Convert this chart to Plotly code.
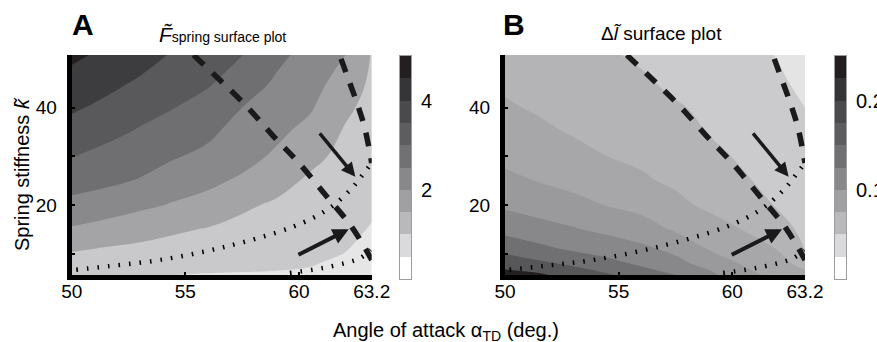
import plotly.graph_objects as go

# ---------------- data ----------------
alpha = [50, 51.5, 53, 54.5, 56, 57.5, 59, 60.5, 62, 63.2]
stiff = [5.6, 8, 11, 15, 20, 25, 30, 35, 40, 45, 50.8]

# F_spring surface, one list per alpha column (values along stiff)
F_cols = [
    [1.55, 1.78, 2.06, 2.45, 2.86, 3.21, 3.52, 3.80, 4.07, 4.32, 4.60],
    [1.53, 1.75, 1.97, 2.32, 2.76, 3.10, 3.36, 3.63, 3.89, 4.13, 4.40],
    [1.51, 1.70, 1.90, 2.20, 2.60, 2.97, 3.21, 3.45, 3.68, 3.93, 4.20],
    [1.50, 1.66, 1.83, 2.07, 2.46, 2.75, 3.04, 3.25, 3.51, 3.72, 3.95],
    [1.48, 1.61, 1.76, 1.97, 2.35, 2.60, 2.88, 3.10, 3.30, 3.55, 3.76],
    [1.47, 1.59, 1.72, 1.88, 2.07, 2.43, 2.66, 2.80, 3.00, 3.25, 3.51],
    [1.46, 1.57, 1.68, 1.82, 1.94, 2.16, 2.43, 2.60, 2.76, 2.93, 3.12],
    [1.43, 1.53, 1.62, 1.72, 1.82, 1.93, 2.12, 2.35, 2.55, 2.68, 2.83],
    [1.30, 1.42, 1.53, 1.62, 1.72, 1.80, 1.88, 1.96, 2.10, 2.30, 2.52],
    [1.10, 1.22, 1.35, 1.47, 1.57, 1.65, 1.72, 1.78, 1.85, 1.91, 1.97],
]
# Delta l surface, one list per alpha column
DL_cols = [
    [0.234, 0.215, 0.192, 0.167, 0.146, 0.130, 0.120, 0.111, 0.103, 0.096, 0.088],
    [0.229, 0.205, 0.181, 0.159, 0.139, 0.124, 0.113, 0.105, 0.097, 0.090, 0.083],
    [0.215, 0.195, 0.171, 0.152, 0.132, 0.118, 0.108, 0.098, 0.092, 0.086, 0.079],
    [0.203, 0.182, 0.164, 0.144, 0.124, 0.112, 0.100, 0.094, 0.089, 0.083, 0.077],
    [0.186, 0.171, 0.155, 0.136, 0.117, 0.103, 0.096, 0.089, 0.084, 0.078, 0.072],
    [0.175, 0.157, 0.144, 0.122, 0.106, 0.096, 0.089, 0.083, 0.077, 0.071, 0.066],
    [0.156, 0.141, 0.123, 0.111, 0.095, 0.087, 0.080, 0.074, 0.071, 0.068, 0.064],
    [0.133, 0.122, 0.111, 0.099, 0.087, 0.077, 0.072, 0.069, 0.065, 0.062, 0.057],
    [0.118, 0.110, 0.099, 0.083, 0.073, 0.069, 0.065, 0.061, 0.057, 0.053, 0.049],
    [0.108, 0.090, 0.073, 0.070, 0.066, 0.062, 0.058, 0.054, 0.050, 0.046, 0.041],
]

# overlay curves (same in both panels)
dash1_a = [55.36, 56.53, 57.71, 58.9, 60.0, 61.3, 62.35, 63.2]
dash1_k = [50.8, 45.6, 40.2, 34.0, 28.6, 21.3, 15.3, 8.7]
dash2_a = [61.85, 62.2, 62.55, 62.9, 63.2]
dash2_k = [50.0, 45.5, 41.0, 35.7, 28.6]
dot1_a = [50.2, 52.0, 53.9, 56.8, 59.76, 61.23, 62.26, 62.85, 63.2]
dot1_k = [6.7, 7.6, 8.7, 11.45, 15.55, 18.97, 23.08, 26.5, 28.6]
dot2_a = [59.6, 61.38, 62.7, 63.15]
dot2_k = [6.0, 7.35, 9.1, 10.8]
arrow_tail_a = [60.86, 59.91]
arrow_tail_k = [35.0, 9.6]
arrow_head_a = [62.48, 62.19]
arrow_head_k = [25.8, 15.0]

x_ticks = [50, 55, 60, 63.2]
x_ticktext = ["50", "55", "60", "63.2"]
y_ticks = [10, 20, 30, 40]
y_ticktext = ["", "20", "", "40"]

F_levels = [0, 5, 0.5]
DL_levels = [0, 0.25, 0.025]
cbA_ticks = [2, 4]
cbA_text = ["2", "4"]
cbB_ticks = [0.1, 0.2]
cbB_text = ["0.1", "0.2"]

# ---------------- styles ----------------
FONT = "Liberation Sans, Arial, Helvetica, sans-serif"
W, H = 877, 342
bandA = ["#ffffff", "#f2f2f3", "#e6e6e7", "#c9c9cb", "#a4a4a6", "#89898b",
         "#6f6f71", "#59595b", "#3d3d3f", "#231f20"]
bandB = ["#ffffff", "#e4e4e5", "#cbcbcd", "#b4b4b6", "#a7a7a9", "#9a9a9c",
         "#88888a", "#707072", "#575759", "#231f20"]
cbar_cols = ["#ffffff", "#dadadc", "#b9b9bb", "#a0a0a2", "#88888a", "#717173",
             "#5d5d5f", "#4a4a4c", "#353537", "#231f20"]


def contour_scale(cols):
    n = len(cols) + 1
    sc = [[0.0, cols[0]]]
    for i, c in enumerate(cols):
        sc.append([(i + 1) / n, c])
    sc.append([1.0, cols[-1]])
    return sc


def step_scale(cols):
    n = len(cols)
    sc = []
    for i, c in enumerate(cols):
        sc.append([i / n, c])
        sc.append([(i + 1) / n, c])
    return sc


def transpose(cols):
    return [list(r) for r in zip(*cols)]


def px(x):
    return x / W


def py(y):
    return 1 - y / H


fig = go.Figure()

panels = [
    ("x", "y", F_cols, F_levels, bandA),
    ("x2", "y2", DL_cols, DL_levels, bandB),
]
for xa, ya, cols, lev, band in panels:
    fig.add_trace(go.Contour(
        x=alpha, y=stiff, z=transpose(cols),
        contours=dict(start=lev[0], end=lev[1], size=lev[2], coloring="fill",
                      showlines=False),
        line=dict(width=0, smoothing=1.3), colorscale=contour_scale(band), showscale=False,
        xaxis=xa, yaxis=ya, hoverinfo="skip"))
    fig.add_trace(go.Scatter(x=dot1_a, y=dot1_k, mode="lines", xaxis=xa, yaxis=ya,
                             line=dict(color="black", width=4.5, dash="1.6px,9px",
                                       shape="spline"), showlegend=False))
    fig.add_trace(go.Scatter(x=dot2_a, y=dot2_k, mode="lines", xaxis=xa, yaxis=ya,
                             line=dict(color="black", width=4.5, dash="1.6px,9px",
                                       shape="spline"), showlegend=False))
    fig.add_trace(go.Scatter(x=dash1_a, y=dash1_k, mode="lines", xaxis=xa, yaxis=ya,
                             line=dict(color="#1a1a1a", width=5.5, dash="14px,12px",
                                       shape="spline"), showlegend=False))
    fig.add_trace(go.Scatter(x=dash2_a, y=dash2_k, mode="lines", xaxis=xa, yaxis=ya,
                             line=dict(color="#1a1a1a", width=5.5, dash="14px,12px",
                                       shape="spline"), showlegend=False))

# colorbars as small heatmaps
cbA_centers = [F_levels[0] + (i + 0.5) * F_levels[2] for i in range(10)]
cbB_centers = [DL_levels[0] + (i + 0.5) * DL_levels[2] for i in range(10)]
fig.add_trace(go.Heatmap(x=[0], y=cbA_centers, z=[[v] for v in cbA_centers],
                         zmin=F_levels[0], zmax=F_levels[1], colorscale=step_scale(cbar_cols),
                         showscale=False, xaxis="x3", yaxis="y3", hoverinfo="skip"))
fig.add_trace(go.Heatmap(x=[0], y=cbB_centers, z=[[v] for v in cbB_centers],
                         zmin=DL_levels[0], zmax=DL_levels[1], colorscale=step_scale(cbar_cols),
                         showscale=False, xaxis="x4", yaxis="y4", hoverinfo="skip"))

tickfont = dict(family=FONT, size=19, color="black")
plot_y = [py(275), py(55)]
common_x = dict(range=[50, 63.2], tickvals=x_ticks, ticktext=x_ticktext, ticks="inside",
                ticklen=3, tickwidth=2, tickcolor="black", showline=True, linewidth=5,
                linecolor="black", showgrid=False, zeroline=False, tickfont=tickfont,
                ticklabelstandoff=-5, automargin=False)
common_y = dict(range=[5.6, 50.8], tickvals=y_ticks, ticktext=y_ticktext, ticks="inside",
                ticklen=3, tickwidth=2, tickcolor="black", showline=True, linewidth=5,
                linecolor="black", showgrid=False, zeroline=False, tickfont=tickfont,
                domain=plot_y, ticklabelstandoff=6, automargin=False)
cb_x = dict(range=[-0.5, 0.5], showticklabels=False, ticks="", showline=True, mirror=True,
            linecolor="#9c9c9c", linewidth=1, showgrid=False, zeroline=False,
            automargin=False)
cb_y_dom = [py(279), py(56)]

fig.update_layout(
    width=W, height=H, margin=dict(l=0, r=0, t=0, b=0, autoexpand=False),
    paper_bgcolor="white", plot_bgcolor="white", showlegend=False,
    font=dict(family=FONT, color="black"),
    xaxis=dict(domain=[px(71.7), px(371.7)], anchor="y", **common_x),
    yaxis=dict(anchor="x", **common_y),
    xaxis2=dict(domain=[px(505), px(805)], anchor="y2", **common_x),
    yaxis2=dict(anchor="x2", **common_y),
    xaxis3=dict(domain=[px(400), px(411)], anchor="y3", **cb_x),
    yaxis3=dict(domain=cb_y_dom, anchor="x3", side="right", range=[F_levels[0], F_levels[1]],
                tickvals=cbA_ticks, ticktext=cbA_text, ticks="", showline=True, mirror=True,
                linecolor="#9c9c9c", linewidth=1, showgrid=False, zeroline=False,
                tickfont=dict(family=FONT, size=20), ticklabelstandoff=5, automargin=False),
    xaxis4=dict(domain=[px(835), px(846)], anchor="y4", **cb_x),
    yaxis4=dict(domain=cb_y_dom, anchor="x4", side="right", range=[DL_levels[0], DL_levels[1]],
                tickvals=cbB_ticks, ticktext=cbB_text, ticks="", showline=True, mirror=True,
                linecolor="#9c9c9c", linewidth=1, showgrid=False, zeroline=False,
                tickfont=dict(family=FONT, size=20), ticklabelstandoff=5, automargin=False),
)

ann = []
for xa, ya in [("x", "y"), ("x2", "y2")]:
    for i in range(len(arrow_tail_a)):
        ann.append(dict(x=arrow_head_a[i], y=arrow_head_k[i], ax=arrow_tail_a[i],
                        ay=arrow_tail_k[i], xref=xa, yref=ya, axref=xa, ayref=ya,
                        text="", showarrow=True, arrowhead=2, arrowsize=0.8,
                        arrowwidth=4 if i == 1 else 3.5, arrowcolor="#1a1a1a", standoff=0))

ann += [
    dict(text="<b>A</b>", x=px(70), y=py(6), xref="paper", yref="paper",
         xanchor="left", yanchor="top", showarrow=False, font=dict(size=30, family=FONT)),
    dict(text="<b>B</b>", x=px(501), y=py(6), xref="paper", yref="paper",
         xanchor="left", yanchor="top", showarrow=False, font=dict(size=30, family=FONT)),
    dict(text="<i>F\u0303</i><span style='font-size:14px'>spring surface plot</span>",
         x=px(222), y=py(48), xref="paper", yref="paper", xanchor="center", yanchor="bottom",
         showarrow=False, font=dict(size=21, family=FONT)),
    dict(text="\u0394<i>l\u0303</i> surface plot", x=px(661), y=py(46), xref="paper",
         yref="paper", xanchor="center", yanchor="bottom", showarrow=False,
         font=dict(size=19, family=FONT)),
    dict(text="Spring stiffness <i>k\u0303</i>", x=px(22), y=py(175), xref="paper",
         yref="paper", xanchor="center", yanchor="middle", textangle=-90, showarrow=False,
         font=dict(size=20, family=FONT)),
    dict(text="Angle of attack \u03b1<sub>TD</sub> (deg.)", x=px(446), y=py(331),
         xref="paper", yref="paper", xanchor="center", yanchor="middle", showarrow=False,
         font=dict(size=20, family=FONT)),
]
fig.update_layout(annotations=ann)

fig.write_html("out.html")
